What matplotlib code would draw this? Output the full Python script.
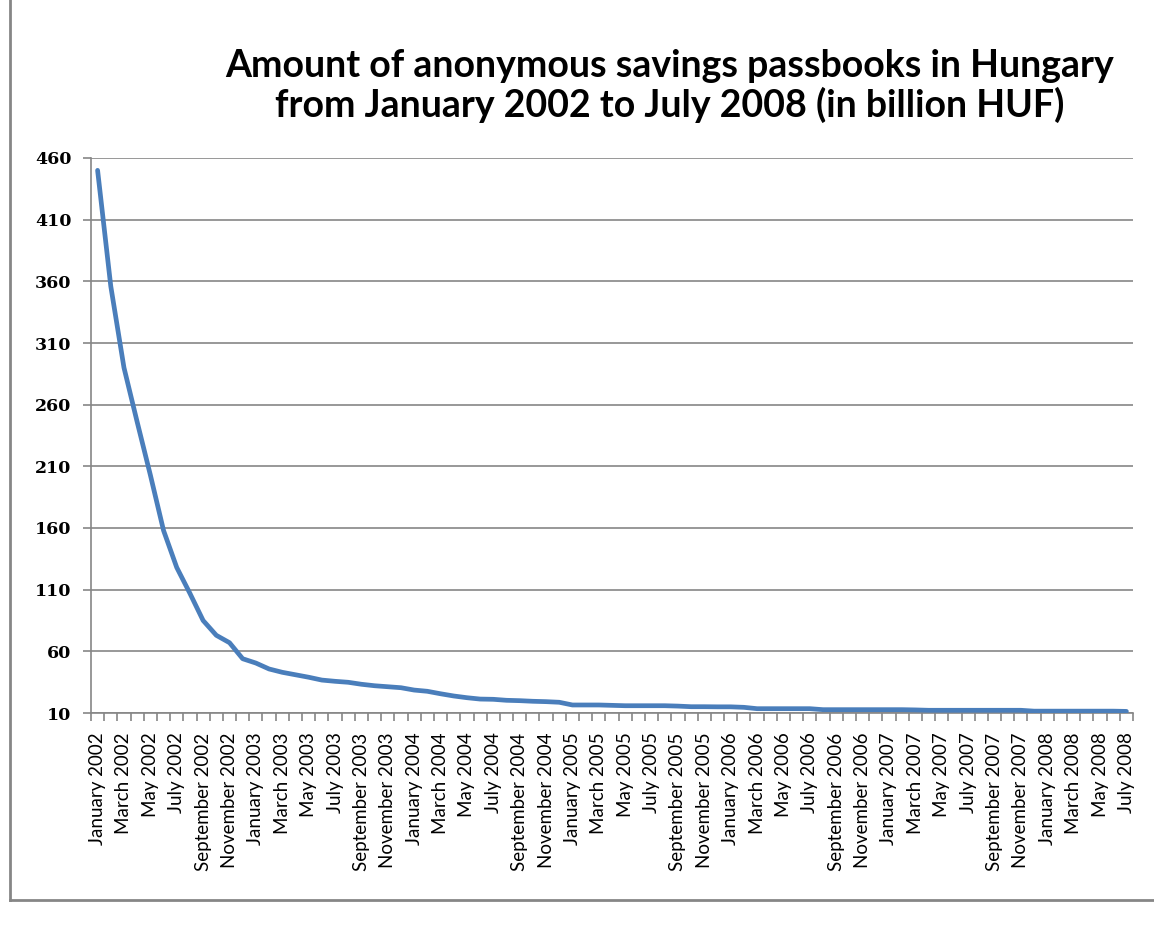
import matplotlib
matplotlib.use("Agg")
import matplotlib.pyplot as plt
from matplotlib.lines import Line2D
from matplotlib.ticker import FixedLocator, NullFormatter

# ── Palette ───────────────────────────────────────────────────────────────────
LINE   = "#4a7ebb"
GRID   = "#868686"
TEXT   = "#000000"

# ── Data: month-end stock, billion HUF, Jan 2002 .. Jul 2008 ────────────────────
years  = [2002, 2003, 2004, 2005, 2006, 2007, 2008]
months = ["January", "March", "May", "July", "September", "November"]
tick_labels = [f"{m} {y}" for y in years for m in months][:40]

amount = [
    450, 356, 290, 246, 203, 158, 128, 107, 85, 73, 67, 54,          # 2002
    50.5, 45.7, 43, 41, 39, 36.7, 35.7, 34.9, 33.3, 32.1, 31.3, 30.5,  # 2003
    28.6, 27.6, 25.6, 23.8, 22.4, 21.3, 21.1, 20.3, 20.0, 19.5, 19.2, 18.7,  # 2004
    16.5, 16.5, 16.5, 16.2, 15.9, 15.9, 15.9, 15.9, 15.6, 15.1, 15.1, 15.0,  # 2005
    15.0, 14.6, 13.5, 13.5, 13.5, 13.5, 13.5, 12.7, 12.7, 12.7, 12.7, 12.7,  # 2006
    12.7, 12.7, 12.5, 12.2, 12.2, 12.2, 12.2, 12.2, 12.2, 12.2, 12.2, 11.5,  # 2007
    11.5, 11.5, 11.5, 11.5, 11.5, 11.5, 11.3,                                # 2008
]

y_ticks = [10, 60, 110, 160, 210, 260, 310, 360, 410, 460]

LABEL_FONT = ["Lato", "DejaVu Sans"]

fig = plt.figure(figsize=(11.54, 9.26), dpi=100, facecolor="white")
ax = fig.add_axes([91 / 1154, 1 - 713 / 926, (1133 - 91) / 1154, (713 - 158) / 926])

xs = list(range(len(amount)))
ax.plot(xs, amount, color=LINE, linewidth=3.4, solid_joinstyle="round",
        solid_capstyle="round", zorder=3)

ax.set_xlim(-0.5, len(amount) - 0.5)
ax.set_ylim(y_ticks[0], y_ticks[-1])

# y axis
ax.set_yticks(y_ticks)
ax.set_yticklabels([str(v) for v in y_ticks], fontsize=12.5, fontweight="bold",
                   family="DejaVu Serif", color=TEXT)
ax.tick_params(axis="y", length=6, width=1.2, color=GRID, pad=8)
ax.grid(axis="y", color=GRID, linewidth=1.2, zorder=0)

# x axis: tick marks between months, labels on every other month
ax.xaxis.set_major_locator(FixedLocator(xs[::2]))
ax.set_xticklabels(tick_labels, rotation=90, fontsize=13.5, family=LABEL_FONT,
                   ha="center", va="top", color=TEXT)
ax.xaxis.set_minor_locator(FixedLocator([x - 0.5 for x in xs] + [xs[-1] + 0.5]))
ax.xaxis.set_minor_formatter(NullFormatter())
ax.tick_params(axis="x", which="major", length=0, pad=14)
ax.tick_params(axis="x", which="minor", length=6, width=1.2, color=GRID)

for side in ("top", "right"):
    ax.spines[side].set_visible(False)
for side in ("left", "bottom"):
    ax.spines[side].set_color(GRID)
    ax.spines[side].set_linewidth(1.2)

fig.text(670 / 1154, 1 - 86 / 926,
         "Amount of anonymous savings passbooks in Hungary\n"
         "from January 2002 to July 2008 (in billion HUF)",
         ha="center", va="center", fontsize=27, fontweight="bold",
         family=LABEL_FONT, color=TEXT, linespacing=1.15)

# chart-area frame
fig.add_artist(Line2D([10 / 1154, 10 / 1154], [1.0, 1 - 900 / 926],
                      transform=fig.transFigure, color=GRID, linewidth=2))
fig.add_artist(Line2D([10 / 1154, 1.0], [1 - 900 / 926, 1 - 900 / 926],
                      transform=fig.transFigure, color=GRID, linewidth=2))

fig.savefig("out.png", dpi=100, facecolor="white")
plt.close(fig)
